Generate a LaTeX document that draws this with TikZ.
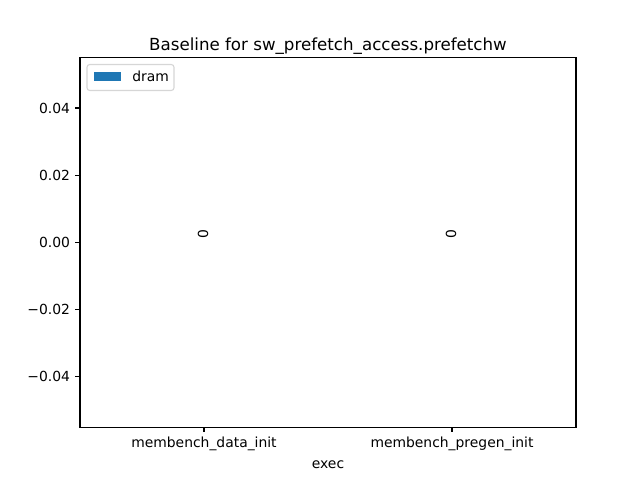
\documentclass[tikz,border=0pt]{standalone}
\usepackage{fontspec}
\setmainfont{DejaVu Sans}
\definecolor{barblue}{HTML}{1F77B4}
\definecolor{legendedge}{HTML}{D6D6D6}
\begin{document}
\begin{tikzpicture}[x=0.72pt,y=-0.72pt,
    ticklabel/.style={font=\fontsize{10}{12}\selectfont},
    axisline/.style={black,line width=0.8pt}]
  \tikzstyle{every node}+=[inner sep=0pt]
  \useasboundingbox (0,0) rectangle (640,480);
  % axes frame
  \draw [axisline] (80,57.6) rectangle (576,427.2);
  % y ticks
  \foreach \y/\lab in {108/0.04, 175.2/0.02, 242.4/0.00, 309.6/{\char"2212 0.02}, 376.8/{\char"2212 0.04}} {
    \draw [axisline] (80,\y) -- (75.1,\y);
    \node [ticklabel,anchor=base east] at (70.3,\y+5) {\lab};
  }
  % x ticks
  \draw [axisline] (204,427.2) -- (204,432.1);
  \node (xdata) [ticklabel,anchor=base] at (204,447) {membench\_data\_init};
  \draw [axisline] (452,427.2) -- (452,432.1);
  \node (xpregen) [ticklabel,anchor=base] at (452,447) {membench\_pregen\_init};
  \node (xlabel) [ticklabel,anchor=base] at (328,468) {exec};
  % bar labels
  \node (bdata) [ticklabel,rotate=90] at (203,234) {0};
  \node (bpregen) [ticklabel,rotate=90] at (451,234) {0};
  % title
  \node (title) [font=\fontsize{12}{14}\selectfont,anchor=base] at (328,50.5) {Baseline for sw\_prefetch\_access.prefetchw};
  % legend
  \draw [legendedge,line width=0.8pt,fill=white,rounded corners=2pt] (87,64.5) rectangle (174,90.5);
  \fill [barblue] (93.5,71.5) rectangle (120.5,81);
  \node (ldram) [ticklabel,anchor=base west] at (132,81.5) {dram};
\end{tikzpicture}
\end{document}
